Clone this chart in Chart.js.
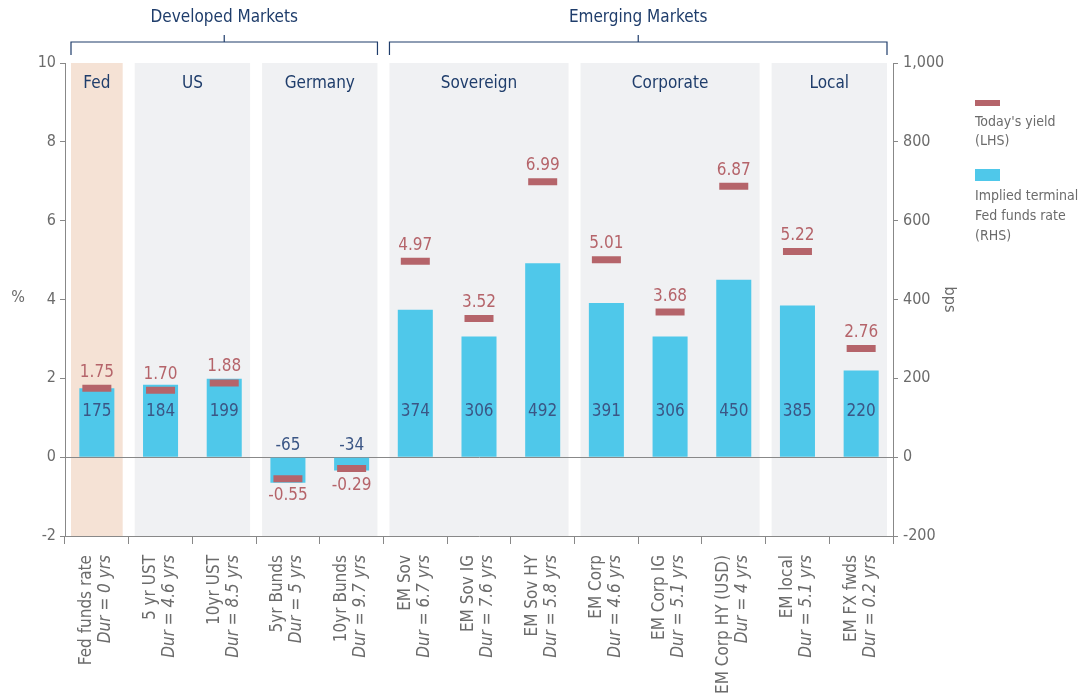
<!DOCTYPE html>
<html>
<head>
<meta charset="utf-8">
<script src="https://cdn.jsdelivr.net/npm/chart.js@4.4.1/dist/chart.umd.min.js"></script>
<style>
  html, body { margin: 0; padding: 0; background: #fff; }
  #wrap { width: 1092px; height: 695px; }
</style>
</head>
<body>
<div id="wrap"><canvas id="myChart" width="1092" height="695"></canvas></div>
<script>
var categories = ["Fed funds rate", "5 yr UST", "10yr UST", "5yr Bunds", "10yr Bunds", "EM Sov", "EM Sov IG", "EM Sov HY", "EM Corp", "EM Corp IG", "EM Corp HY (USD)", "EM local", "EM FX fwds"];
var durations = ["Dur = 0 yrs", "Dur = 4.6 yrs", "Dur = 8.5 yrs", "Dur = 5 yrs", "Dur = 9.7 yrs", "Dur = 6.7 yrs", "Dur = 7.6 yrs", "Dur = 5.8 yrs", "Dur = 4.6 yrs", "Dur = 5.1 yrs", "Dur = 4 yrs", "Dur = 5.1 yrs", "Dur = 0.2 yrs"];
var todaysYield = [1.75, 1.70, 1.88, -0.55, -0.29, 4.97, 3.52, 6.99, 5.01, 3.68, 6.87, 5.22, 2.76];
var impliedBps = [175, 184, 199, -65, -34, 374, 306, 492, 391, 306, 450, 385, 220];

var sections = ["Fed", "US", "Germany", "Sovereign", "Corporate", "Local"];
var sectionStart = [0, 1, 3, 5, 8, 11];
var sectionEnd = [0, 2, 4, 7, 10, 12];
var groups = ["Developed Markets", "Emerging Markets"];
var groupStart = [0, 5];
var groupEnd = [4, 12];

var FONT = "'Liberation Sans Narrow', 'DejaVu Sans Condensed', 'Roboto', sans-serif";
var NAVY = "#1f3d6b";
var RED = "#b5646a";
var BLUE = "#4fc8ea";
var GREY = "#6b6b6b";

// shaded sections, brackets and headings
var sectionPlugin = {
  id: "sections",
  beforeDraw: function (chart) {
    var ctx = chart.ctx, x = chart.scales.x, area = chart.chartArea;
    var half = x.width / categories.length / 2;
    ctx.save();
    for (var i = 0; i < sections.length; i++) {
      var l = x.getPixelForValue(sectionStart[i]) - half + 6;
      var r = x.getPixelForValue(sectionEnd[i]) + half - 6;
      ctx.fillStyle = i == 0 ? "#f5e2d5" : "#f0f1f3";
      ctx.fillRect(l, area.top, r - l, area.bottom - area.top);
      ctx.fillStyle = NAVY;
      ctx.font = "17px " + FONT;
      ctx.textAlign = "center";
      ctx.textBaseline = "middle";
      ctx.fillText(sections[i], (l + r) / 2, area.top + 21);
    }
    ctx.strokeStyle = NAVY;
    ctx.lineWidth = 1.2;
    for (var g = 0; g < groups.length; g++) {
      var gl = x.getPixelForValue(groupStart[g]) - half + 6;
      var gr = x.getPixelForValue(groupEnd[g]) + half - 6;
      var by = area.top - 21;
      ctx.beginPath();
      ctx.moveTo(gl, area.top - 8);
      ctx.lineTo(gl, by);
      ctx.lineTo(gr, by);
      ctx.lineTo(gr, area.top - 8);
      ctx.moveTo((gl + gr) / 2, by);
      ctx.lineTo((gl + gr) / 2, by - 7);
      ctx.stroke();
      ctx.fillStyle = NAVY;
      ctx.font = "17px " + FONT;
      ctx.textAlign = "center";
      ctx.textBaseline = "middle";
      ctx.fillText(groups[g], (gl + gr) / 2, area.top - 45);
    }
    ctx.restore();
  },
  afterDraw: function (chart) {
    var ctx = chart.ctx, x = chart.scales.x, area = chart.chartArea;
    ctx.save();
    // category labels, rotated, second line italic
    ctx.fillStyle = GREY;
    ctx.textAlign = "right";
    ctx.textBaseline = "middle";
    for (var i = 0; i < categories.length; i++) {
      var px = x.getPixelForValue(i);
      ctx.save();
      ctx.translate(px, area.bottom + 19);
      ctx.rotate(-Math.PI / 2);
      ctx.font = "17px " + FONT;
      ctx.fillText(categories[i], 0, -10);
      ctx.font = "italic 17px " + FONT;
      ctx.fillText(durations[i], 0, 9);
      ctx.restore();
    }
    // left axis title
    ctx.font = "16px " + FONT;
    ctx.textAlign = "center";
    ctx.fillText("%", 18, (area.top + area.bottom) / 2 - 2);
    // legend
    var lx = area.right + 82;
    ctx.fillStyle = RED;
    ctx.fillRect(lx, area.top + 37, 25, 6);
    ctx.fillStyle = BLUE;
    ctx.fillRect(lx, area.top + 106, 25, 12);
    ctx.fillStyle = GREY;
    ctx.font = "14px " + FONT;
    ctx.textAlign = "left";
    ctx.fillText("Today's yield", lx, area.top + 59);
    ctx.fillText("(LHS)", lx, area.top + 78);
    ctx.fillText("Implied terminal", lx, area.top + 133);
    ctx.fillText("Fed funds rate", lx, area.top + 153);
    ctx.fillText("(RHS)", lx, area.top + 173);
    ctx.restore();
  },
  afterDatasetsDraw: function (chart) {
    var ctx = chart.ctx;
    var bars = chart.getDatasetMeta(0).data;
    var marks = chart.getDatasetMeta(1).data;
    var zero = chart.scales.y2.getPixelForValue(0);
    ctx.save();
    ctx.font = "17px " + FONT;
    ctx.textAlign = "center";
    ctx.textBaseline = "middle";
    for (var i = 0; i < bars.length; i++) {
      ctx.fillStyle = "#3b5685";
      var v = impliedBps[i];
      ctx.fillText(String(v), bars[i].x, v >= 0 ? zero - 46 : zero - 12);
      ctx.fillStyle = RED;
      var y = todaysYield[i];
      ctx.fillText(y.toFixed(2), marks[i].x, y >= 0 ? marks[i].y - 16 : marks[i].y + 17);
    }
    ctx.restore();
  }
};

window.addEventListener("load", function () {
  var chartdata = document.getElementById("myChart").getContext("2d");
  var chart = new Chart(chartdata, {
    type: "bar",
    data: {
      labels: categories,
      datasets: [
        {
          label: "Implied terminal Fed funds rate (RHS)",
          data: impliedBps,
          yAxisID: "y2",
          backgroundColor: BLUE,
          categoryPercentage: 1,
          barPercentage: 0.55,
          order: 2
        },
        {
          type: "line",
          label: "Today's yield (LHS)",
          data: todaysYield,
          yAxisID: "y",
          showLine: false,
          pointStyle: "line",
          pointRadius: 14.5,
          pointHoverRadius: 14.5,
          pointBorderWidth: 7,
          pointHoverBorderWidth: 7,
          borderColor: RED,
          backgroundColor: RED,
          order: 1
        }
      ]
    },
    options: {
      responsive: false,
      devicePixelRatio: 1,
      animation: false,
      layout: { padding: { left: 0, top: 63, right: 133, bottom: 0 } },
      plugins: { legend: { display: false }, tooltip: { enabled: false } },
      scales: {
        x: {
          grid: { offset: true, drawOnChartArea: false, tickLength: 8, tickColor: "#888" },
          border: { color: "#888" },
          ticks: { display: false },
          afterFit: function (s) { s.height = 159; }
        },
        y: {
          position: "left",
          min: -2, max: 10,
          ticks: { stepSize: 2, color: GREY, font: { family: FONT, size: 16 }, padding: 4 },
          grid: {
            color: function (c) { return c.tick && c.tick.value === 0 ? "#888" : "rgba(0,0,0,0)"; },
            tickColor: "#888", tickLength: 5
          },
          border: { color: "#888" },
          afterFit: function (s) { s.width = 65; }
        },
        y2: {
          position: "right",
          min: -200, max: 1000,
          ticks: {
            stepSize: 200, color: GREY, font: { family: FONT, size: 16 }, padding: 5,
            callback: function (v) { return v.toLocaleString("en-US"); }
          },
          grid: { drawOnChartArea: false, tickColor: "#888", tickLength: 5 },
          border: { color: "#888" },
          title: { display: true, text: "bps", color: GREY, font: { family: FONT, size: 16 }, padding: 0 },
          afterFit: function (s) { s.width = 66; }
        }
      }
    },
    plugins: [sectionPlugin]
  });
});
</script>
</body>
</html>
